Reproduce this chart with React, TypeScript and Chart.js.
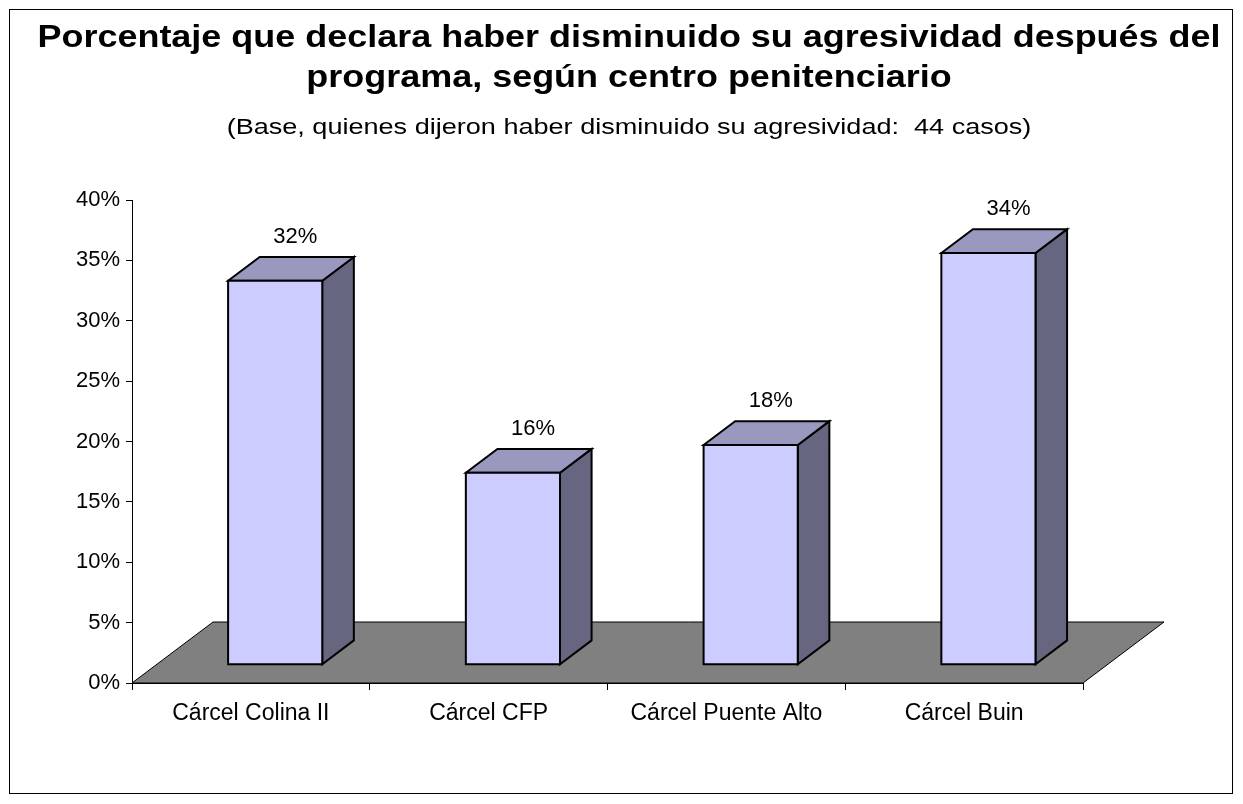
import { useEffect, useRef } from "react";
import { Chart, registerables } from "chart.js";

Chart.register(...registerables);

const FONT = "'Liberation Sans', Arial, sans-serif";

const CATEGORIES = ["Cárcel Colina II", "Cárcel CFP", "Cárcel Puente Alto", "Cárcel Buin"];
// % of the 44 cases per prison
const VALUES = [31.8, 15.9, 18.2, 34.1];
const Y_MAX = 40;
const Y_STEP = 5;

const TITLE = [
  "Porcentaje que declara haber disminuido su agresividad después del",
  "programa, según centro penitenciario",
];
const SUBTITLE = "(Base, quienes dijeron haber disminuido su agresividad:  44 casos)";

// depth of the 3d floor, in px
const FLOOR_DX = 81;
const FLOOR_DY = 61;
const FRONT = 0.3;
const BACK = 0.69;

function poly(ctx: CanvasRenderingContext2D, pts: number[][], fill: string) {
  ctx.beginPath();
  ctx.moveTo(pts[0][0], pts[0][1]);
  for (let i = 1; i < pts.length; i++) ctx.lineTo(pts[i][0], pts[i][1]);
  ctx.closePath();
  ctx.fillStyle = fill;
  ctx.fill();
  ctx.stroke();
}

// the old excel picture has wide-set title text, so draw it stretched
function wideText(ctx: CanvasRenderingContext2D, text: string, x: number, y: number, font: string, sx: number) {
  ctx.save();
  ctx.translate(x, y);
  ctx.scale(sx, 1);
  ctx.font = font;
  ctx.fillStyle = "#000";
  ctx.textAlign = "center";
  ctx.textBaseline = "alphabetic";
  ctx.fillText(text, 0, 0);
  ctx.restore();
}

const titleBlock = {
  id: "titleBlock",
  afterDraw(chart: any) {
    const { ctx } = chart;
    const cx = 629;
    wideText(ctx, TITLE[0], cx, 47, `bold 31px ${FONT}`, 1.16);
    wideText(ctx, TITLE[1], cx, 87, `bold 31px ${FONT}`, 1.16);
    wideText(ctx, SUBTITLE, cx, 134, `22px ${FONT}`, 1.23);
  },
};

const bars3d = {
  id: "bars3d",
  beforeDatasetsDraw(chart: any) {
    const { ctx, chartArea: a } = chart;
    ctx.save();
    ctx.strokeStyle = "#000";
    ctx.lineWidth = 1;
    poly(
      ctx,
      [
        [a.left, a.bottom],
        [a.left + FLOOR_DX, a.bottom - FLOOR_DY],
        [a.right + FLOOR_DX, a.bottom - FLOOR_DY],
        [a.right, a.bottom],
      ],
      "#808080"
    );
    ctx.restore();
  },
  afterDatasetsDraw(chart: any) {
    const { ctx } = chart;
    const meta = chart.getDatasetMeta(0);
    const fx = FLOOR_DX * FRONT;
    const fy = FLOOR_DY * FRONT;
    const dx = FLOOR_DX * (BACK - FRONT);
    const dy = FLOOR_DY * (BACK - FRONT);
    ctx.save();
    ctx.strokeStyle = "#000";
    ctx.lineWidth = 2;
    ctx.lineJoin = "miter";
    meta.data.forEach((el: any, i: number) => {
      const { x, y, base, width } = el.getProps(["x", "y", "base", "width"], true);
      const l = x - width / 2 + fx;
      const r = x + width / 2 + fx;
      const t = y - fy;
      const b = base - fy;
      poly(ctx, [[r, b], [r, t], [r + dx, t - dy], [r + dx, b - dy]], "#666680");
      poly(ctx, [[l, t], [l + dx, t - dy], [r + dx, t - dy], [r, t]], "#9999C0");
      poly(ctx, [[l, t], [r, t], [r, b], [l, b]], "#CCCCFF");
      ctx.fillStyle = "#000";
      ctx.font = `22px ${FONT}`;
      ctx.textAlign = "center";
      ctx.textBaseline = "middle";
      ctx.fillText(Math.round(VALUES[i]) + "%", x + fx + 20, t - dy - 20);
    });
    ctx.restore();
  },
};

export default function App() {
  const canvasRef = useRef<HTMLCanvasElement>(null);

  useEffect(() => {
    document.body.style.margin = "0";
    if (!canvasRef.current) return;
    const chart = new Chart(canvasRef.current, {
      type: "bar",
      data: {
        labels: CATEGORIES,
        datasets: [
          {
            data: VALUES,
            backgroundColor: "rgba(0,0,0,0)",
            borderWidth: 0,
            categoryPercentage: 1,
            barPercentage: 0.396,
          },
        ],
      },
      options: {
        responsive: false,
        animation: false,
        layout: { padding: { left: 0, right: 160, top: 200, bottom: 0 } },
        plugins: {
          legend: { display: false },
          tooltip: { enabled: false },
          title: { display: false },
        },
        scales: {
          x: {
            afterFit: (s: any) => {
              s.height = 121;
            },
            grid: {
              display: true,
              drawOnChartArea: false,
              offset: true,
              tickLength: 7,
              color: "#000",
            },
            border: { display: true, color: "#000" },
            ticks: {
              color: "#000",
              font: { family: FONT, size: 23 },
              padding: 10,
              maxRotation: 0,
            },
          },
          y: {
            min: 0,
            max: Y_MAX,
            afterFit: (s: any) => {
              s.width = 132;
            },
            grid: {
              display: true,
              drawOnChartArea: false,
              tickLength: 6,
              color: "#000",
            },
            border: { display: true, color: "#000" },
            ticks: {
              stepSize: Y_STEP,
              color: "#000",
              font: { family: FONT, size: 22 },
              padding: 6,
              callback: (v: any) => v + "%",
            },
          },
        },
      },
      plugins: [bars3d, titleBlock],
    });
    return () => chart.destroy();
  }, []);

  return (
    <div style={{ position: "relative", width: 1243, height: 804, background: "#fff", overflow: "hidden" }}>
      <canvas ref={canvasRef} width={1243} height={804} />
      <div
        style={{
          position: "absolute",
          left: 9,
          top: 9,
          width: 1222,
          height: 783,
          border: "1px solid #000",
          pointerEvents: "none",
        }}
      />
    </div>
  );
}
